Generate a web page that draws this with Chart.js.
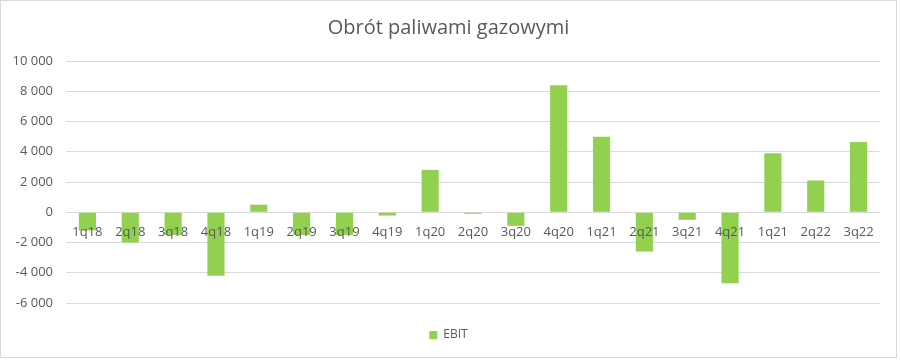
<!DOCTYPE html>
<html>
<head>
<meta charset="utf-8">
<script src="https://cdn.jsdelivr.net/npm/chart.js@4.4.0/dist/chart.umd.min.js"></script>
<style>
  html, body { margin: 0; padding: 0; background: #fff; }
  #wrap { width: 897px; height: 358px; border: 1px solid #d9d9d9; box-sizing: border-box; }
</style>
</head>
<body>
<div id="wrap"><canvas id="chart" width="895" height="356"></canvas></div>
<script>
// Chart data
const quarters = ['1q18', '2q18', '3q18', '4q18', '1q19', '2q19', '3q19', '4q19', '1q20', '2q20',
                  '3q20', '4q20', '1q21', '2q21', '3q21', '4q21', '1q21', '2q22', '3q22'];
const ebit = [-1200, -2000, -1500, -4200, 500, -1500, -1500, -220, 2800, -100,
              -900, 8400, 5000, -2600, -500, -4700, 3900, 2100, 4650];
const yTicks = [-6000, -4000, -2000, 0, 2000, 4000, 6000, 8000, 10000];

const textColor = '#595959';
const gridColor = '#d9d9d9';
const fontFamily = '"Open Sans", sans-serif';

function formatNumber(v) {
    const s = Math.abs(v).toString().replace(/\B(?=(\d{3})+(?!\d))/g, ' ');
    return (v < 0 ? '-' : '') + s;
}

const ctx = document.getElementById('chart').getContext('2d');
new Chart(ctx, {
    type: 'bar',
    data: {
        labels: quarters,
        datasets: [{
            label: 'EBIT',
            data: ebit,
            backgroundColor: '#92d050',
            borderWidth: 0,
            barPercentage: 0.4,
            categoryPercentage: 1
        }]
    },
    options: {
        responsive: false,
        animation: false,
        layout: {
            padding: { left: 8, right: 8, top: 0, bottom: 6 }
        },
        plugins: {
            title: {
                display: true,
                text: 'Obrót paliwami gazowymi',
                color: textColor,
                font: { family: fontFamily, size: 20, weight: 'normal' },
                padding: { top: 15, bottom: 21 }
            },
            legend: {
                position: 'bottom',
                labels: {
                    color: textColor,
                    boxWidth: 8,
                    boxHeight: 8,
                    padding: 26,
                    font: { family: fontFamily, size: 12 }
                }
            },
            tooltip: { enabled: false }
        },
        scales: {
            x: {
                position: { y: 0 },
                grid: { display: false, drawTicks: false },
                border: { display: false },
                ticks: {
                    z: 1,
                    color: textColor,
                    padding: 12,
                    maxRotation: 0,
                    autoSkip: false,
                    font: { family: fontFamily, size: 13 }
                }
            },
            y: {
                min: -6000,
                max: 10000,
                afterBuildTicks: function(scale) {
                    scale.ticks = yTicks.map(v => ({ value: v }));
                },
                afterFit: function(scale) {
                    scale.width = 57;
                },
                grid: { color: gridColor, drawTicks: false },
                border: { display: false },
                ticks: {
                    color: textColor,
                    padding: 13,
                    font: { family: fontFamily, size: 13 },
                    callback: function(value) {
                        return formatNumber(value);
                    }
                }
            },
            // empty right-hand spacer so the plot ends where the reference does
            spacer: {
                type: 'linear',
                position: 'right',
                grid: { display: false, drawTicks: false },
                border: { display: false },
                ticks: { display: false },
                afterFit: function(scale) {
                    scale.width = 8;
                }
            }
        }
    }
});
</script>
</body>
</html>
